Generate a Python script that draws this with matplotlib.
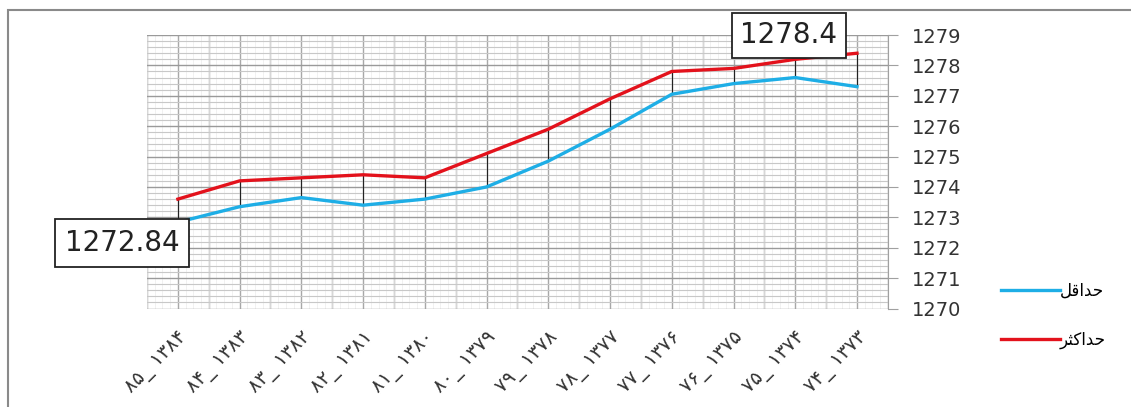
import matplotlib
matplotlib.use("Agg")
import matplotlib.pyplot as plt
from matplotlib.ticker import MultipleLocator
from matplotlib.patches import Rectangle

# ---- data ----
categories = ["۸۵_ ۱۳۸۴", "۸۴_ ۱۳۸۳", "۸۳_ ۱۳۸۲", "۸۲_ ۱۳۸۱", "۸۱_ ۱۳۸۰", "۸۰_ ۱۳۷۹",
              "۷۹_ ۱۳۷۸", "۷۸_ ۱۳۷۷", "۷۷_ ۱۳۷۶", "۷۶_ ۱۳۷۵", "۷۵_ ۱۳۷۴", "۷۴_ ۱۳۷۳"]
min_values = [1272.84, 1273.35, 1273.65, 1273.4, 1273.6, 1274.0,
              1274.85, 1275.9, 1277.05, 1277.4, 1277.6, 1277.3]
max_values = [1273.6, 1274.2, 1274.3, 1274.4, 1274.3, 1275.1,
              1275.9, 1276.9, 1277.8, 1277.9, 1278.2, 1278.4]
label_min = "حداقل"
label_max = "حداکثر"
y_ticks = list(range(1270, 1280))

# ---- minimal Arabic/Persian shaping for display ----
_FORMS = {  # isolated, final, initial, medial
    'ا': ('\uFE8D', '\uFE8E', None, None),
    'د': ('\uFEA9', '\uFEAA', None, None),
    'ر': ('\uFEAD', '\uFEAE', None, None),
    'ح': ('\uFEA1', '\uFEA2', '\uFEA3', '\uFEA4'),
    'ق': ('\uFED5', '\uFED6', '\uFED7', '\uFED8'),
    'ل': ('\uFEDD', '\uFEDE', '\uFEDF', '\uFEE0'),
    'ک': ('\uFB8E', '\uFB8F', '\uFB90', '\uFB91'),
    'ث': ('\uFE99', '\uFE9A', '\uFE9B', '\uFE9C'),
}


def shape(word):
    out = []
    n = len(word)
    for i, ch in enumerate(word):
        f = _FORMS.get(ch)
        if f is None:
            out.append(ch)
            continue
        prev = word[i - 1] if i > 0 else None
        nxt = word[i + 1] if i < n - 1 else None
        join_prev = prev in _FORMS and _FORMS[prev][2] is not None
        join_next = nxt in _FORMS and f[2] is not None
        if join_prev and join_next:
            out.append(f[3])
        elif join_prev:
            out.append(f[1])
        elif join_next:
            out.append(f[2])
        else:
            out.append(f[0])
    return "".join(reversed(out))


plt.rcParams['font.family'] = ['DejaVu Sans']

fig = plt.figure(figsize=(11.31, 4.07), dpi=100)
ax = fig.add_axes([0.130, 0.242, 0.655, 0.672])

x = list(range(len(categories)))

# grid
ax.set_xlim(-0.5, len(categories) - 0.5)
ax.set_ylim(1270, 1279)
ax.xaxis.set_major_locator(MultipleLocator(1))
ax.xaxis.set_minor_locator(MultipleLocator(0.125))
ax.yaxis.set_major_locator(MultipleLocator(1))
ax.yaxis.set_minor_locator(MultipleLocator(0.2))
ax.set_axisbelow(True)
ax.grid(which='minor', axis='y', color='#c8c8c8', linewidth=0.8)
ax.grid(which='major', axis='y', color='#9a9a9a', linewidth=1.0)
ax.grid(which='minor', axis='x', color='#ececec', linewidth=0.5)
for b in [i + 0.5 for i in range(-1, len(categories))] + x:
    ax.axvline(b, color='#a8a8a8', linewidth=1.0, zorder=0.5)

# high-low lines
ax.vlines(x, min_values, max_values, color='#222222', linewidth=0.8, zorder=2)

ax.plot(x, min_values, color='#1eaee6', linewidth=2.4, label=shape(label_min), zorder=3)
ax.plot(x, max_values, color='#e3121c', linewidth=2.4, label=shape(label_max), zorder=3)

# axes styling
for s in ['top', 'left', 'bottom']:
    ax.spines[s].set_visible(False)
ax.spines['right'].set_color('#a0a0a0')
ax.yaxis.tick_right()
ax.set_yticks(y_ticks)
ax.set_yticklabels([str(v) for v in y_ticks], fontsize=14, color='#333333')
ax.tick_params(axis='y', which='major', length=7, color='#a0a0a0', pad=10)
ax.tick_params(axis='y', which='minor', length=0)
ax.tick_params(axis='x', which='both', length=0, pad=14)
ax.set_xticks(x)
ax.set_xticklabels(categories, rotation=45, ha='right', va='top',
                   rotation_mode='anchor', fontsize=14, color='#333333')

# annotations
ax.annotate(f"{min_values[0]:g}", xy=(x[0], min_values[0]), xytext=(-56, -21),
            textcoords='offset pixels', ha='center', va='center', fontsize=20,
            color='#222222', zorder=5,
            bbox=dict(boxstyle='square,pad=0.35', fc='white', ec='#222222', lw=1.3))
ax.annotate(f"{max_values[-1]:g}", xy=(x[-1], max_values[-1]), xytext=(-68, 18),
            textcoords='offset pixels', ha='center', va='center', fontsize=20,
            color='#222222', zorder=5, annotation_clip=False,
            bbox=dict(boxstyle='square,pad=0.3', fc='white', ec='#222222', lw=1.3))

# legend
fig.legend(loc='center left', bbox_to_anchor=(0.872, 0.225), frameon=False,
           fontsize=12, handlelength=3.5, handletextpad=0.0, labelspacing=1.9)

# outer frame (only left and top edges visible)
fig.patches.append(Rectangle((8 / 1131, -0.2), 1.2, 1.2 - 10 / 407, transform=fig.transFigure,
                             fill=False, edgecolor='#8a8a8a', linewidth=1.5))

fig.savefig("out.png", dpi=100)
